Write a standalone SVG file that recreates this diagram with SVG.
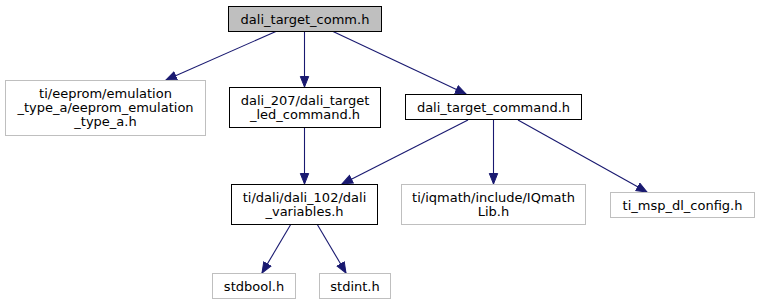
<svg xmlns="http://www.w3.org/2000/svg" width="758" height="305" viewBox="0 0 758 305">
  <defs>
    <style>
      .node rect { fill: #ffffff; stroke: #000000; stroke-width: 1; }
      .node.ext rect { stroke: #bfbfbf; }
      .node.main rect { fill: #bfbfbf; }
      .node text { font-family: "DejaVu Sans", sans-serif; font-size: 13px; fill: #000000; text-anchor: middle; }
      .edges line { stroke: #191970; stroke-width: 1.1; fill: none; marker-end: url(#arrow); }
    </style>
    <marker id="arrow" markerUnits="userSpaceOnUse" markerWidth="13" markerHeight="11" refX="11" refY="5" orient="auto">
      <path d="M0.5,0.8 L11,5 L0.5,9.2 z" fill="#191970" stroke="#191970" stroke-width="1"/>
    </marker>
  </defs>
  <rect width="758" height="305" fill="#ffffff"/>

  <!-- include dependencies -->
  <g id="edges" class="edges">
    <line x1="277" y1="31" x2="166" y2="80"/>
    <line x1="304.5" y1="31" x2="304.5" y2="87"/>
    <line x1="332" y1="31" x2="466" y2="94"/>
    <line x1="304.5" y1="128" x2="304.5" y2="184"/>
    <line x1="468" y1="120" x2="342" y2="184"/>
    <line x1="493.5" y1="120" x2="493.5" y2="184"/>
    <line x1="518" y1="120" x2="647" y2="192"/>
    <line x1="291" y1="224" x2="262" y2="273"/>
    <line x1="317" y1="224" x2="346" y2="273"/>
  </g>

  <g id="node_dali_target_comm" class="node main">
    <rect x="228.5" y="6.5" width="153" height="25"/>
    <text x="305" y="23.5">dali_target_comm.h</text>
  </g>

  <g id="node_eeprom_emulation" class="node ext">
    <rect x="5.5" y="80.5" width="200" height="55"/>
    <text x="105.5" y="98">ti/eeprom/emulation</text>
    <text x="105.5" y="112">_type_a/eeprom_emulation</text>
    <text x="105.5" y="126">_type_a.h</text>
  </g>

  <g id="node_dali_target_led_command" class="node">
    <rect x="229.5" y="87.5" width="151" height="40"/>
    <text x="305" y="104.5">dali_207/dali_target</text>
    <text x="305" y="118.5">_led_command.h</text>
  </g>

  <g id="node_dali_target_command" class="node">
    <rect x="405.5" y="94.5" width="176" height="25"/>
    <text x="493.5" y="111.5">dali_target_command.h</text>
  </g>

  <g id="node_dali_variables" class="node">
    <rect x="231.5" y="184.5" width="146" height="40"/>
    <text x="304.5" y="201.5">ti/dali/dali_102/dali</text>
    <text x="304.5" y="215.5">_variables.h</text>
  </g>

  <g id="node_iqmathlib" class="node ext">
    <rect x="401.5" y="184.5" width="184" height="40"/>
    <text x="493.5" y="201.5">ti/iqmath/include/IQmath</text>
    <text x="493.5" y="215.5">Lib.h</text>
  </g>

  <g id="node_ti_msp_dl_config" class="node ext">
    <rect x="610.5" y="192.5" width="144" height="25"/>
    <text x="682.5" y="209.5">ti_msp_dl_config.h</text>
  </g>

  <g id="node_stdbool" class="node ext">
    <rect x="212.5" y="273.5" width="83" height="25"/>
    <text x="254" y="290.5">stdbool.h</text>
  </g>

  <g id="node_stdint" class="node ext">
    <rect x="319.5" y="273.5" width="71" height="25"/>
    <text x="355" y="290.5">stdint.h</text>
  </g>
</svg>
